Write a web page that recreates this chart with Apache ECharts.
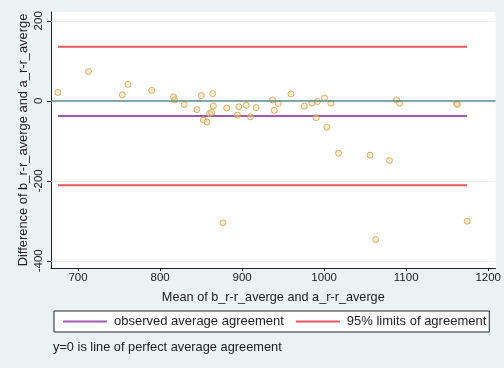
<!DOCTYPE html>
<html>
<head>
<meta charset="utf-8">
<script src="https://cdn.jsdelivr.net/npm/echarts@6/dist/echarts.min.js"></script>
<style>
  html, body { margin: 0; padding: 0; background: #eaf2f3; }
  #chart { width: 504px; height: 368px; }
</style>
</head>
<body>
<div id="chart"></div>
<script>
// Bland-Altman style plot: mean of the two measurements vs their difference
const meanValues = [675.5, 712.7, 753.9, 760.8, 789.8, 816.3, 817.6, 829.4, 844.9, 850.2,
  852.7, 857.1, 860.4, 862.9, 864.1, 864.9, 876.7, 881.2, 894.3, 895.9,
  904.9, 910.2, 917.1, 937.1, 939.2, 944.1, 959.6, 975.9, 984.9, 990.2,
  991.8, 1000.4, 1003.3, 1008.2, 1017.6, 1055.9, 1062.9, 1079.6, 1088.2, 1091.8,
  1161.6, 1162.4, 1174.3];
const diffValues = [21, 73, 15, 41, 26, 10, 2, -9, -22, 13,
  -48, -53, -32, -29, 18, -13, -305, -18, -36, -15,
  -11, -40, -17, 2, -24, -7, 17, -13, -6, -42,
  -2, 7, -66, -6, -131, -136, -347, -149, 2, -6,
  -7, -9, -301];

const meanDifference = -38;   // observed average agreement
const upperLimit = 135;       // 95% limits of agreement
const lowerLimit = -211;

const xTicks = [700, 800, 900, 1000, 1100, 1200];
const yTicks = [-400, -200, 0, 200];

const xMin = Math.min(...meanValues);
const xMax = Math.max(...meanValues);

const points = meanValues.map((m, i) => [m, diffValues[i]]);

const font = '"Liberation Sans", Arial, sans-serif';
const ink = '#222';
const chart = echarts.init(document.getElementById('chart'), null, { renderer: 'canvas' });

chart.setOption({
  backgroundColor: '#eaf2f3',
  animation: false,
  textStyle: { fontFamily: font },
  grid: {
    left: 51, top: 12, width: 446, height: 256,
    show: true, backgroundColor: '#ffffff', borderWidth: 0
  },
  xAxis: {
    type: 'value',
    min: 667, max: 1209,
    name: 'Mean of b_r-r_averge and a_r-r_averge',
    nameLocation: 'middle', nameGap: 23, nameMoveOverlap: false,
    nameTextStyle: { fontSize: 12.7, color: ink, fontFamily: font },
    axisLine: { show: true, onZero: false, lineStyle: { color: ink, width: 1 } },
    axisTick: { show: true, length: 3, customValues: xTicks, lineStyle: { color: ink } },
    axisLabel: {
      customValues: xTicks, margin: 4, fontSize: 11.5, color: ink, fontFamily: font,
      formatter: v => String(v)
    },
    splitLine: { show: false }
  },
  yAxis: {
    type: 'value',
    min: -418, max: 222,
    name: 'Difference of b_r-r_averge and a_r-r_averge',
    nameLocation: 'middle', nameGap: 21, nameRotate: 90, nameMoveOverlap: false,
    nameTextStyle: { fontSize: 12.9, color: ink, fontFamily: font },
    axisLine: { show: true, onZero: false, lineStyle: { color: ink, width: 1 } },
    axisTick: { show: true, length: 4, customValues: yTicks, lineStyle: { color: ink } },
    axisLabel: {
      customValues: yTicks, rotate: 90, margin: 6, fontSize: 11.5, color: ink, fontFamily: font,
      formatter: v => String(v)
    },
    splitLine: { show: false }
  },
  legend: {
    left: 54, top: 311,
    orient: 'horizontal',
    backgroundColor: '#ffffff',
    borderColor: ink, borderWidth: 1,
    padding: [4, 3, 4, 9],
    itemWidth: 44, itemHeight: 2, itemGap: 12,
    icon: 'rect',
    textStyle: { fontSize: 13, color: ink, fontFamily: font, padding: [0, 0, 0, 2] },
    data: ['observed average agreement', '95% limits of agreement']
  },
  graphic: [{
    type: 'text', left: 53, top: 341,
    style: { text: 'y=0 is line of perfect average agreement', fontSize: 12.8, fill: ink, fontFamily: font }
  }],
  series: [
    {
      name: 'grid',
      type: 'line',
      data: [],
      silent: true,
      markLine: {
        silent: true, symbol: 'none', label: { show: false },
        lineStyle: { color: '#eef2f2', width: 1, type: 'solid' },
        data: [{ yAxis: 200 }, { yAxis: -200 }, { yAxis: -400 }]
      }
    },
    {
      name: 'zero',
      type: 'line',
      data: [],
      silent: true,
      z: 3,
      markLine: {
        silent: true, symbol: 'none', label: { show: false },
        lineStyle: { color: '#5d8a8e', width: 1.5, type: 'solid' },
        data: [{ yAxis: 0 }]
      }
    },
    {
      name: 'observed average agreement',
      type: 'line',
      symbol: 'none',
      color: '#9a5cb0',
      lineStyle: { color: '#9a5cb0', width: 2 },
      z: 3,
      data: [[xMin, meanDifference], [xMax, meanDifference]]
    },
    {
      name: '95% limits of agreement',
      type: 'line',
      symbol: 'none',
      color: '#e5585c',
      lineStyle: { color: '#e5585c', width: 2 },
      connectNulls: false,
      z: 3,
      data: [[xMin, upperLimit], [xMax, upperLimit], ['-', '-'], [xMin, lowerLimit], [xMax, lowerLimit]]
    },
    {
      name: 'difference',
      type: 'scatter',
      symbol: 'circle',
      symbolSize: 6,
      z: 4,
      itemStyle: { color: 'rgba(244, 214, 160, 0.55)', borderColor: '#d49b3c', borderWidth: 1 },
      data: points
    }
  ]
});
</script>
</body>
</html>
